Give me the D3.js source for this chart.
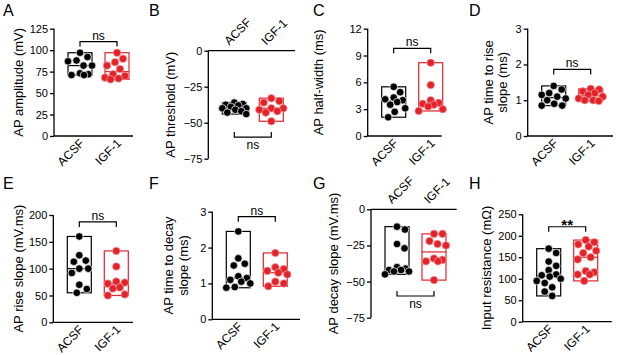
<!DOCTYPE html>
<html><head><meta charset="utf-8">
<script src="https://cdn.jsdelivr.net/npm/d3@7"></script>
<style>
body{margin:0;background:#fff;}
svg{display:block;font-family:"Liberation Sans",Arial,sans-serif;}
</style></head>
<body>
<svg id="c" width="617" height="355"></svg>
<script>
const groups = ["ACSF", "IGF-1"];

const ampACSF = [97, 92, 88, 87, 82, 82, 73, 71, 72, 71];
const ampIGF = [97, 90, 86, 82, 78, 72, 70, 68, 67, 66];
const ampTicks = [0, 25, 50, 75, 100, 125];

const thrACSF = [-36, -37, -37.5, -38, -39, -40, -40, -41, -42, -43, -44];
const thrIGF = [-33, -35, -36, -40, -40, -41, -42, -43, -49];
const thrTicks = [0, -25, -50, -75];

const hwACSF = [5.5, 4.9, 4.3, 4.1, 4.0, 3.8, 3.5, 3.1, 2.7, 2.1];
const hwIGF = [8.2, 5.7, 4.0, 3.7, 3.6, 3.5, 3.3, 3.0, 2.8];
const hwTicks = [0, 3, 6, 9, 12];

const riseTimeACSF = [1.40, 1.30, 1.2, 1.15, 1.1, 1.05, 1.0, 0.9, 0.85, 0.85];
const riseTimeIGF = [1.32, 1.3, 1.25, 1.2, 1.15, 1.1, 1.05, 1.0, 1.0, 0.98];
const riseTimeTicks = [0, 1, 2, 3];

const riseSlopeACSF = [160, 125, 115, 113, 100, 100, 92, 70, 62, 55];
const riseSlopeIGF = [133, 104, 76, 74, 72, 65, 63, 52, 50];
const riseSlopeTicks = [0, 50, 100, 150, 200];

const decayTimeACSF = [2.45, 1.7, 1.55, 1.5, 1.2, 1.15, 1.1, 1.05, 1.0, 0.9, 0.88];
const decayTimeIGF = [1.85, 1.45, 1.4, 1.35, 1.3, 1.25, 1.05, 1.0, 0.92];
const decayTimeTicks = [0, 1, 2, 3];

const decaySlopeACSF = [-12, -14, -24, -27, -40, -41, -42, -42, -43, -43, -45];
const decaySlopeIGF = [-17, -17, -22, -24, -25, -34, -35, -36, -36, -49];
const decaySlopeTicks = [0, -25, -50, -75];

const rinACSF = [170, 160, 140, 130, 120, 110, 108, 105, 100, 95, 90, 80, 70, 60];
const rinIGF = [190, 185, 180, 175, 165, 160, 150, 145, 118, 115, 110, 110, 95];
const rinTicks = [0, 50, 100, 150, 200, 250];

const letters = ["A", "B", "C", "D", "E", "F", "G", "H"];
const sigLabels = ["ns", "ns", "ns", "ns", "ns", "ns", "ns", "**"];
const sigLevels = [110, -60, 9.8, 1.86, 187, 2.86, -60, 221];

// layout (positions only)
const panels = [
  {a: ampACSF, b: ampIGF, ticks: ampTicks, dom: [0, 125], lab: ["AP amplitude (mV)"], ax: 54, axEnd: 133, y0: 136, y1: 28.7, lx: [18], letter: [3, 16]},
  {a: thrACSF, b: thrIGF, ticks: thrTicks, dom: [-75, 0], lab: ["AP threshold (mV)"], ax: 208.3, axEnd: 295, y0: 158.7, y1: 50.7, lx: [170], letter: [149, 16], neg: true},
  {a: hwACSF, b: hwIGF, ticks: hwTicks, dom: [0, 12], lab: ["AP half-width (ms)"], ax: 367.7, axEnd: 441.7, y0: 136, y1: 28.7, lx: [318], letter: [313, 16]},
  {a: riseTimeACSF, b: riseTimeIGF, ticks: riseTimeTicks, dom: [0, 3], lab: ["AP time to rise", "slope (ms)"], ax: 527.7, axEnd: 613, y0: 136, y1: 28.7, lx: [488, 502], letter: [469, 16]},
  {a: riseSlopeACSF, b: riseSlopeIGF, ticks: riseSlopeTicks, dom: [0, 200], lab: ["AP rise slope (mV.ms)"], ax: 53.3, axEnd: 133, y0: 322.3, y1: 215, lx: [18], letter: [3, 189]},
  {a: decayTimeACSF, b: decayTimeIGF, ticks: decayTimeTicks, dom: [0, 3], lab: ["AP time to decay", "slope (ms)"], ax: 212.3, axEnd: 300, y0: 319.3, y1: 211.7, lx: [168, 183], letter: [149, 189]},
  {a: decaySlopeACSF, b: decaySlopeIGF, ticks: decaySlopeTicks, dom: [-75, 0], lab: ["AP decay slope (mV.ms)"], ax: 371, axEnd: 456.7, y0: 317.7, y1: 209.3, lx: [333], letter: [313, 189], neg: true},
  {a: rinACSF, b: rinIGF, ticks: rinTicks, dom: [0, 250], lab: ["Input resistance (m\u03A9)"], ax: 522.7, axEnd: 611.7, y0: 321.7, y1: 214.3, lx: [486], letter: [469, 189]}
];

const RED = "#e2232a";
const svg = d3.select("#c");
const R = 3.8, HALF = 12, SEP = 2 * R * 1.1;

function swarm(vals, y, cx) {
  const pts = vals.map(v => ({v, y: y(v)})).sort((p, q) => p.y - q.y);
  const placed = [];
  for (const p of pts) {
    let best = 0, bestOv = Infinity;
    outer: for (let k = 0; k <= 30; k++) {
      for (const s of (k === 0 ? [1] : [1, -1])) {
        const off = s * k * 0.5;
        if (Math.abs(off) > HALF) continue;
        let ov = 0;
        for (const q of placed) {
          const d = Math.hypot(q.x - (cx + off), q.y - p.y);
          if (d < SEP) ov = Math.max(ov, SEP - d);
        }
        if (ov === 0) { best = off; bestOv = 0; break outer; }
        if (ov < bestOv) { bestOv = ov; best = off; }
      }
    }
    p.x = cx + best;
    placed.push(p);
  }
  return placed;
}

panels.forEach((P, i) => {
  const g = svg.append("g");
  const y = d3.scaleLinear().domain(P.dom).range([P.y0, P.y1]);
  const x = d3.scalePoint().domain(groups).range([P.ax + 26, P.ax + 63]);
  const axisY = P.neg ? y(0) : y(P.dom[0]);

  // panel letter
  g.append("text").attr("x", P.letter[0]).attr("y", P.letter[1])
    .attr("font-size", 16).text(letters[i]);

  // y axis
  const ya = g.append("g").attr("transform", `translate(${P.ax},0)`)
    .call(d3.axisLeft(y).tickValues(P.ticks).tickSize(4).tickPadding(2).tickFormat(d3.format("d")));
  ya.selectAll("text").attr("font-size", 11).attr("font-family", "Liberation Sans, Arial, sans-serif").attr("fill", "#000");
  ya.selectAll("line,path").attr("stroke", "#000").attr("stroke-width", 1.3);
  ya.select(".domain").attr("d", `M0,${P.y0}V${P.y1}`);

  // x axis (line only; labels rotated separately)
  const xaxis = P.neg ? d3.axisTop(x) : d3.axisBottom(x);
  const xa = g.append("g").attr("transform", `translate(0,${axisY})`)
    .call(xaxis.tickSize(0).tickFormat(""));
  xa.select(".domain").attr("d", `M${P.ax},0H${P.axEnd}`).attr("stroke", "#000").attr("stroke-width", 1.3);

  const lg = g.selectAll(null).data(groups).join("g")
    .attr("transform", d => P.neg
      ? `translate(${x(d) - 5},${axisY - 5})`
      : `translate(${x(d) + 5},${axisY + 8})`);
  lg.append("text")
    .attr("font-size", 12).attr("fill", "#000")
    .attr("text-anchor", P.neg ? "start" : "end")
    .attr("transform", "rotate(-45)")
    .text(d => d);

  // y label
  P.lab.forEach((t, k) => {
    const cy = (P.y0 + P.y1) / 2;
    g.append("text")
      .attr("transform", `translate(${P.lx[k] + 4.5},${cy}) rotate(-90)`)
      .attr("text-anchor", "middle").attr("font-size", 13).text(t);
  });

  // boxes and dots
  [[P.a, "#000"], [P.b, RED]].forEach(([vals, col], j) => {
    const cx = x(groups[j]);
    const lo = d3.min(vals), hi = d3.max(vals), med = d3.median(vals);
    g.append("rect").attr("x", cx - HALF).attr("width", 2 * HALF)
      .attr("y", Math.min(y(lo), y(hi))).attr("height", Math.abs(y(lo) - y(hi)))
      .attr("fill", "none").attr("stroke", col).attr("stroke-width", 1.2);
    g.append("line").attr("x1", cx - HALF).attr("x2", cx + HALF)
      .attr("y1", y(med)).attr("y2", y(med)).attr("stroke", col).attr("stroke-width", 1.2);
    const pts = swarm(vals, y, cx);
    g.selectAll(null).data(pts).join("circle")
      .attr("cx", d => d.x).attr("cy", d => d.y).attr("r", R)
      .attr("fill", col)
      .attr("stroke", j === 0 ? "#ffffff" : "#f3a3a3").attr("stroke-width", 0.7);
  });

  // significance bracket
  const by = y(sigLevels[i]);
  const x1 = x(groups[0]), x2 = x(groups[1]);
  const tick = P.neg ? -5 : 5;
  g.append("path").attr("d", `M${x1},${by + tick}V${by}H${x2}V${by + tick}`)
    .attr("fill", "none").attr("stroke", "#000").attr("stroke-width", 1.2);
  const isStar = sigLabels[i] === "**";
  g.append("text").attr("x", (x1 + x2) / 2)
    .attr("y", P.neg ? by + 12 : (isStar ? by + 3 : by - 2))
    .attr("text-anchor", "middle")
    .attr("font-size", isStar ? 15 : 12).attr("font-weight", isStar ? "bold" : "normal")
    .text(sigLabels[i]);
});
</script>
</body></html>
